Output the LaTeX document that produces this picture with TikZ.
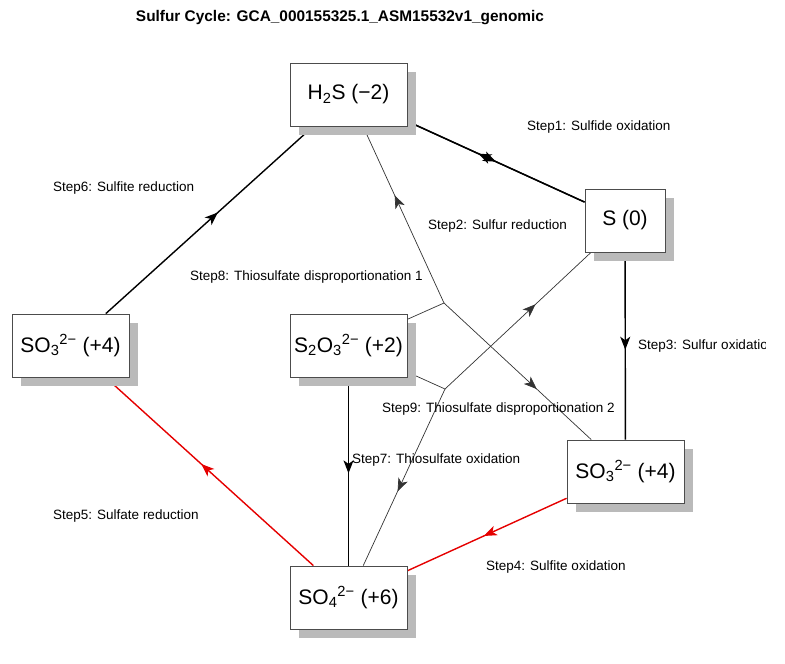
\documentclass[tikz,border=0pt]{standalone}
\usepackage{fontspec}
\setmainfont{Liberation Sans}
\usetikzlibrary{arrows.meta,decorations.markings,shadows}
\pgfdeclarelayer{background}
\pgfsetlayers{background,main}
\begin{document}
\begin{tikzpicture}[x=1pt,y=-1pt,
  species/.style={draw=black!70, line width=0.8pt, fill=white,
    minimum width=117pt, minimum height=63pt, inner sep=0pt,
    font=\fontsize{21}{25}\selectfont,
    drop shadow={shadow xshift=9pt, shadow yshift=-9pt, fill=black!27, opacity=1}},
  lbl/.style={anchor=west, inner sep=0pt, font=\fontsize{13.5}{16}\selectfont},
  midarrow/.style={postaction=decorate, decoration={markings,
    mark=at position #1 with {\arrow{Stealth[length=13pt,width=10pt,inset=3.5pt]}}}},
  thickedge/.style={draw=black, line width=1.4pt},
  rededge/.style={draw=red!90!black, line width=1.4pt},
  thinedge/.style={draw=black!80, line width=0.7pt}]
\useasboundingbox (0,0) rectangle (785,664);

% title
\node[font=\fontsize{15.4}{18}\selectfont\bfseries] (title) at (340,18)
  {Sulfur Cycle: GCA\_000155325.1\_ASM15532v1\_genomic};

% sulfur species
\node[species] (h2s)  at (348.5,94.5)  {H\textsubscript{2}S (−2)};
\node[species, minimum width=80pt] (s0) at (625,220.5) {S (0)};
\node[species] (s2o3) at (348.5,345.5) {S\textsubscript{2}O\textsubscript{3}\textsuperscript{2−} (+2)};
\node[species] (so3r) at (625.5,471.5) {SO\textsubscript{3}\textsuperscript{2−} (+4)};
\node[species] (so4)  at (348.5,597.5) {SO\textsubscript{4}\textsuperscript{2−} (+6)};
\node[species] (so3l) at (70.5,345.5)  {SO\textsubscript{3}\textsuperscript{2−} (+4)};

% branch points of the disproportionation reactions
\coordinate (j1) at (444,303);
\coordinate (j2) at (445,389);

\begin{pgfonlayer}{background}
  \draw[thickedge, midarrow=0.5]  (h2s) -- (s0);    % step 1
  \draw[thickedge, midarrow=0.6]  (s0) -- (h2s);    % step 2
  \draw[thickedge, midarrow=0.52] (s0) -- (so3r);   % step 3
  \draw[rededge,   midarrow=0.52] (so3r) -- (so4);  % step 4
  \draw[rededge,   midarrow=0.54] (so4) -- (so3l);  % step 5
  \draw[thickedge, midarrow=0.54] (so3l) -- (h2s);  % step 6
  \draw[thickedge, midarrow=0.51] (s2o3) -- (so4);  % step 7
  % step 8
  \draw[thinedge] (s2o3) -- (j1);
  \draw[thinedge, midarrow=0.61] (j1) -- (h2s);
  \draw[thinedge, midarrow=0.63] (j1) -- (so3r);
  % step 9
  \draw[thinedge] (s2o3) -- (j2);
  \draw[thinedge, midarrow=0.62] (j2) -- (s0);
  \draw[thinedge, midarrow=0.58] (j2) -- (so4);
\end{pgfonlayer}

% reaction labels
\node[lbl] (l1) at (527,127) {Step1: Sulfide oxidation};
\node[lbl] (l2) at (428,226) {Step2: Sulfur reduction};
\begin{scope}
  \clip (0,0) rectangle (765,664);
  \node[lbl] (l3) at (638,346) {Step3: Sulfur oxidation};
\end{scope}
\node[lbl] (l4) at (486,567) {Step4: Sulfite oxidation};
\node[lbl] (l5) at (53,516)  {Step5: Sulfate reduction};
\node[lbl] (l6) at (53,188)  {Step6: Sulfite reduction};
\node[lbl] (l7) at (352,460) {Step7: Thiosulfate oxidation};
\node[lbl] (l8) at (190,277) {Step8: Thiosulfate disproportionation 1};
\node[lbl] (l9) at (382,409) {Step9: Thiosulfate disproportionation 2};
\end{tikzpicture}
\end{document}
